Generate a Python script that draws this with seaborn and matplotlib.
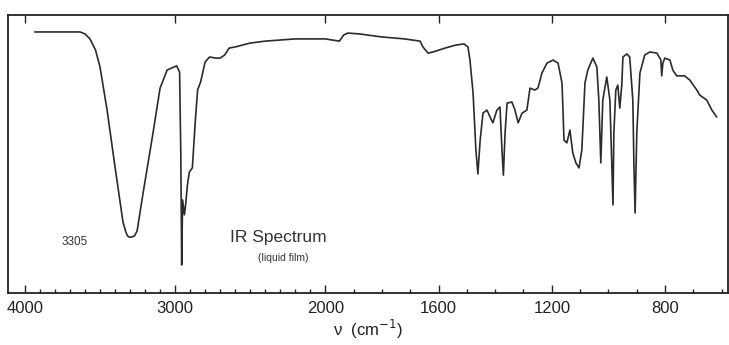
import numpy as np
import pandas as pd
from matplotlib import pyplot as plt
import seaborn as sns

# wavenumber (cm-1) and transmittance (%)
wavenumber = [3935, 3633, 3600, 3567, 3530, 3500, 3453, 3400, 3347, 3330,
              3318, 3305, 3290, 3270, 3253, 3213,
              3147, 3100, 3053, 2990, 2970, 2962, 2956, 2950, 2938, 2930,
              2918, 2905, 2885, 2865, 2850, 2830, 2800, 2770, 2730, 2700,
              2670, 2640, 2600, 2550, 2500, 2400, 2300, 2200, 2000, 1950,
              1935, 1920, 1880, 1800, 1720, 1665, 1655, 1637, 1619, 1577,
              1538, 1510, 1496, 1489, 1478, 1468, 1461, 1453, 1443, 1429,
              1418, 1408, 1394, 1383, 1376, 1371, 1365, 1358, 1341, 1330,
              1319, 1305, 1288, 1277, 1260, 1249, 1235, 1217, 1196, 1178,
              1164, 1157, 1147, 1136, 1126, 1115, 1104, 1094, 1083, 1073,
              1055, 1041, 1034, 1027, 1020, 1006, 995, 988, 984, 981,
              974, 967, 960, 953, 949, 935, 925, 914, 910, 906,
              900, 889, 872, 854, 829, 815, 812, 808, 801, 783,
              773, 759, 731, 713, 688, 678, 653, 635, 618]
transmittance = [93.9, 93.9, 93.2, 91.4, 87.4, 81.3, 65.8, 45.3, 25.5, 22.3,
                 20.6, 20.1, 20.1, 20.6, 22.3, 36.0,
                 57.6, 73.7, 80.2, 81.7, 79.5, 50.0, 10.1, 33.5, 28.1, 31.7,
                 38.8, 43.5, 45.0, 62.2, 73.0, 75.9, 83.1, 84.9, 84.5, 84.5,
                 85.6, 88.1, 88.5, 89.2, 89.9, 90.6, 91.0, 91.4, 91.4, 90.6,
                 92.8, 93.5, 93.2, 92.1, 91.4, 90.6, 88.5, 86.3, 86.7, 88.1,
                 89.2, 89.6, 88.5, 83.8, 71.9, 51.4, 42.8, 55.0, 64.7, 65.8,
                 63.3, 61.2, 65.8, 66.9, 51.4, 42.4, 57.6, 68.3, 68.7, 65.8,
                 61.2, 64.7, 65.8, 73.7, 73.0, 73.7, 79.1, 82.7, 83.8, 82.7,
                 75.5, 55.0, 54.0, 58.6, 50.4, 46.8, 45.0, 51.4, 75.5, 80.2,
                 84.5, 81.3, 69.4, 46.8, 69.4, 77.7, 69.4, 45.3, 31.7, 57.6,
                 73.0, 74.8, 66.5, 74.8, 84.9, 86.0, 84.9, 69.4, 45.3, 28.8,
                 57.6, 79.1, 85.6, 86.7, 86.3, 83.8, 78.1, 82.7, 84.5, 83.8,
                 80.2, 78.1, 78.1, 76.6, 73.0, 71.2, 69.4, 65.8, 63.3]

major_ticks = [4000, 3000, 2000, 1600, 1200, 800]
minor_ticks = [w for w in range(600, 4000, 100) if w not in major_ticks]

df = pd.DataFrame({'wn': wavenumber, 'T': transmittance})

# chart scale is compressed by about half above 2000 cm-1
RATIO = 0.53


def fwd(w):
    w = np.asarray(w, dtype=float)
    return np.where(w >= 2000, 2000 + (w - 2000) * RATIO, w)


def inv(p):
    p = np.asarray(p, dtype=float)
    return np.where(p >= 2000, 2000 + (p - 2000) / RATIO, p)


sns.set_style('white')
plt.rcParams['font.family'] = ['Liberation Sans', 'DejaVu Sans']

fig = plt.figure(figsize=(7.29, 3.45), dpi=100)
ax = fig.add_axes([8 / 729, 52 / 345, 720 / 729, 278 / 345])
ax.set_xscale('function', functions=(fwd, inv))

sns.lineplot(data=df, x='wn', y='T', sort=False, color='#2b2b2b', lw=1.2, ax=ax)

ax.set_xlim(4113, 578)
ax.set_ylim(0, 100)

ax.set_xticks(major_ticks)
ax.set_xticklabels([str(t) for t in major_ticks], fontsize=12, color='#222222')
ax.set_xticks(minor_ticks, minor=True)
ax.tick_params(axis='x', which='major', direction='in', length=6, width=1,
               top=True, bottom=True, pad=6, color='#222222')
ax.tick_params(axis='x', which='minor', direction='in', length=3, width=1,
               top=False, bottom=True, color='#222222')
ax.set_yticks([])
ax.set_ylabel('')
ax.set_xlabel('ν  (cm$^{-1}$)', fontsize=12, labelpad=1, color='#222222')

for s in ax.spines.values():
    s.set_color('#222222')
    s.set_linewidth(1.3)

ax.text(3667, 18.3, '3305', fontsize=8.5, ha='center', va='center', color='#333333')
ax.text(2313, 20.1, 'IR Spectrum', fontsize=12.5, ha='center', va='center', color='#333333')
ax.text(2280, 12.6, '(liquid film)', fontsize=7.5, ha='center', va='center', color='#333333')

plt.savefig('out.png', dpi=100)
plt.close()
